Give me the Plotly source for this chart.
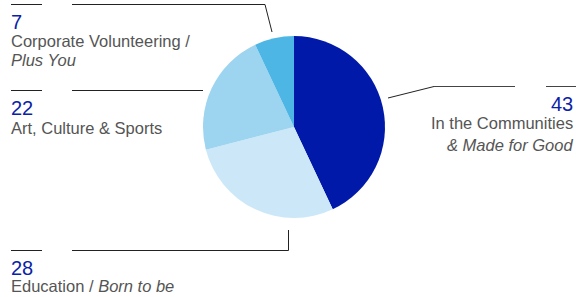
import plotly.graph_objects as go

categories = ["In the Communities & Made for Good", "Education / Born to be",
              "Art, Culture & Sports", "Corporate Volunteering / Plus You"]
values = [43, 28, 22, 7]
colors = ["#0019A8", "#CCE8F8", "#9DD4EF", "#4DB6E4"]

W, H = 576, 297

def px(x):
    return x / W

def py(y):
    return 1 - y / H

fig = go.Figure()
fig.add_trace(go.Pie(
    labels=categories, values=values, sort=False, direction="clockwise",
    rotation=0, textinfo="none", hoverinfo="label+value",
    marker=dict(colors=colors, line=dict(width=0)),
    domain=dict(x=[px(203), px(385)], y=[py(218), py(36)]),
    showlegend=False,
))

shapes = []
def seg(x0, y0, x1, y1, color="#222222"):
    shapes.append(dict(type="line", xref="paper", yref="paper",
                       x0=px(x0), y0=py(y0), x1=px(x1), y1=py(y1),
                       line=dict(color=color, width=1)))

# 7
seg(11, 4.5, 42, 4.5)
seg(72, 4.5, 265, 4.5)
seg(265, 4.5, 272, 32)
# 22
seg(11, 90.5, 42, 90.5)
seg(72, 90.5, 203, 90.5)
# 43
seg(388, 98, 434, 86.5)
seg(434, 86.5, 515, 86.5, "#444444")
seg(546, 86.5, 576, 86.5, "#444444")
# 28
seg(11, 250.5, 42, 250.5)
seg(72, 250.5, 288.5, 250.5)
seg(288.5, 250.5, 288.5, 230)

BLUE = "#0A22A8"
GRAY = "#555555"
FONT = "Liberation Sans"
NUM = 20
LBL = 16.5

annots = []
def txt(x, y, s, size, color, anchor="left"):
    annots.append(dict(x=px(x), y=py(y), xref="paper", yref="paper", text=s,
                       showarrow=False, xanchor=anchor, yanchor="middle",
                       font=dict(family=FONT, size=size, color=color)))

txt(9, 22, str(values[3]), NUM, BLUE)
txt(9, 41.5, "Corporate Volunteering /", LBL, GRAY)
txt(9, 60, "<i>Plus You</i>", LBL, GRAY)

txt(9, 108.5, str(values[2]), NUM, BLUE)
txt(9, 128, "Art, Culture &amp; Sports", LBL, GRAY)

txt(575, 103.5, str(values[0]), NUM, BLUE, "right")
txt(575, 123, "In the Communities", LBL, GRAY, "right")
txt(575, 144.5, "<i>&amp; Made for Good</i>", LBL, GRAY, "right")

txt(9, 268, str(values[1]), NUM, BLUE)
txt(9, 286, "Education / <i>Born to be</i>", LBL, GRAY)

fig.update_layout(width=W, height=H, margin=dict(l=0, r=0, t=0, b=0),
                  paper_bgcolor="white", plot_bgcolor="white",
                  shapes=shapes, annotations=annots)

fig.write_html("out.html", config={"displayModeBar": False}, post_script=(
    "document.documentElement.style.margin='0';"
    "document.body.style.margin='0';document.body.style.padding='0';"
    "document.body.style.overflow='hidden';"))
